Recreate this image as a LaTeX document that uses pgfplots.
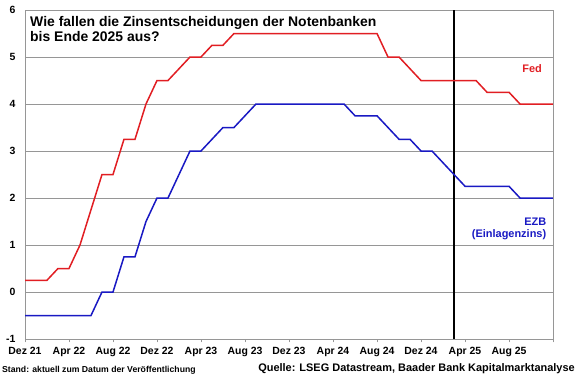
\documentclass[border=0pt]{standalone}
\usepackage{fontspec}
\setmainfont{Liberation Sans}
\usepackage{pgfplots}
\pgfplotsset{compat=1.18}
\definecolor{fedred}{RGB}{225,30,35}
\definecolor{ezbblue}{RGB}{25,25,195}
\definecolor{gridgray}{RGB}{150,150,150}
\begin{document}
\begin{tikzpicture}
\path[use as bounding box] (0,0) rectangle (580bp,375bp);
\begin{axis}[
  at={(25bp,36bp)}, anchor=south west,
  scale only axis, width=528bp, height=329bp,
  xmin=0, xmax=48, ymin=-1, ymax=6,
  xtick={0,4,...,48},
  xticklabels={Dez 21,Apr 22,Aug 22,Dez 22,Apr 23,Aug 23,Dez 23,Apr 24,Aug 24,Dez 24,Apr 25,Aug 25,{}},
  ytick={-1,0,...,6},
  ymajorgrids, grid style={gridgray, line width=0.6bp},
  axis line style={gridgray, line width=0.8bp},
  xtick pos=lower, ytick pos=left,
  xtick align=outside, major tick length=3.5bp,
  xtick style={gridgray, line width=0.6bp},
  ytick style={draw=none},
  /pgf/number format/assume math mode=true,
  ticklabel style={font=\bfseries\fontsize{10.5}{12}\selectfont},
  xticklabel style={yshift=-1bp},
  yticklabel style={xshift=-6bp},
  clip=false,
]
\addplot[black, line width=1.8bp] coordinates {(39,-1) (39,6)};
\addplot[fedred, line width=1.5bp] coordinates {
(0,0.25)(1,0.25)(2,0.25)(3,0.5)(4,0.5)(5,1.0)(6,1.75)(7,2.5)(8,2.5)(9,3.25)(10,3.25)
(11,4.0)(12,4.5)(13,4.5)(14,4.75)(15,5.0)(16,5.0)(17,5.25)(18,5.25)(19,5.5)(20,5.5)
(21,5.5)(22,5.5)(23,5.5)(24,5.5)(25,5.5)(26,5.5)(27,5.5)(28,5.5)(29,5.5)(30,5.5)(31,5.5)
(32,5.5)(33,5.0)(34,5.0)(35,4.75)(36,4.5)(37,4.5)(38,4.5)(39,4.5)(40,4.5)(41,4.5)
(42,4.25)(43,4.25)(44,4.25)(45,4.0)(46,4.0)(47,4.0)(48,4.0)};
\addplot[ezbblue, line width=1.5bp] coordinates {
(0,-0.5)(1,-0.5)(2,-0.5)(3,-0.5)(4,-0.5)(5,-0.5)(6,-0.5)(7,0)(8,0)(9,0.75)(10,0.75)
(11,1.5)(12,2.0)(13,2.0)(14,2.5)(15,3.0)(16,3.0)(17,3.25)(18,3.5)(19,3.5)(20,3.75)
(21,4.0)(22,4.0)(23,4.0)(24,4.0)(25,4.0)(26,4.0)(27,4.0)(28,4.0)(29,4.0)(30,3.75)
(31,3.75)(32,3.75)(33,3.5)(34,3.25)(35,3.25)(36,3.0)(37,3.0)(38,2.75)(39,2.5)(40,2.25)
(41,2.25)(42,2.25)(43,2.25)(44,2.25)(45,2.0)(46,2.0)(47,2.0)(48,2.0)};
\node[fedred, font=\bfseries\fontsize{11}{13}\selectfont] at (axis cs:46.1,4.745) {Fed};
\node[ezbblue, font=\bfseries\fontsize{11}{13}\selectfont, anchor=east, inner sep=0] at (axis cs:47.4,1.49) {EZB};
\node[ezbblue, font=\bfseries\fontsize{11}{13}\selectfont, anchor=east, inner sep=0] at (axis cs:47.4,1.22) {(Einlagenzins)};
\end{axis}
\node[anchor=base west, inner sep=0, font=\bfseries\fontsize{14}{16}\selectfont] at (30bp,348.5bp) {Wie fallen die Zinsentscheidungen der Notenbanken};
\node[anchor=base west, inner sep=0, font=\bfseries\fontsize{14}{16}\selectfont] at (30bp,333.3bp) {bis Ende 2025 aus?};
\node[anchor=base west, inner sep=0, font=\bfseries\fontsize{8.7}{10}\selectfont] at (2bp,3bp) {Stand: aktuell zum Datum der Veröffentlichung};
\node[anchor=base east, inner sep=0, font=\bfseries\fontsize{11}{13}\selectfont] at (575bp,4bp) {Quelle: LSEG Datastream, Baader Bank Kapitalmarktanalyse};
\end{tikzpicture}
\end{document}
